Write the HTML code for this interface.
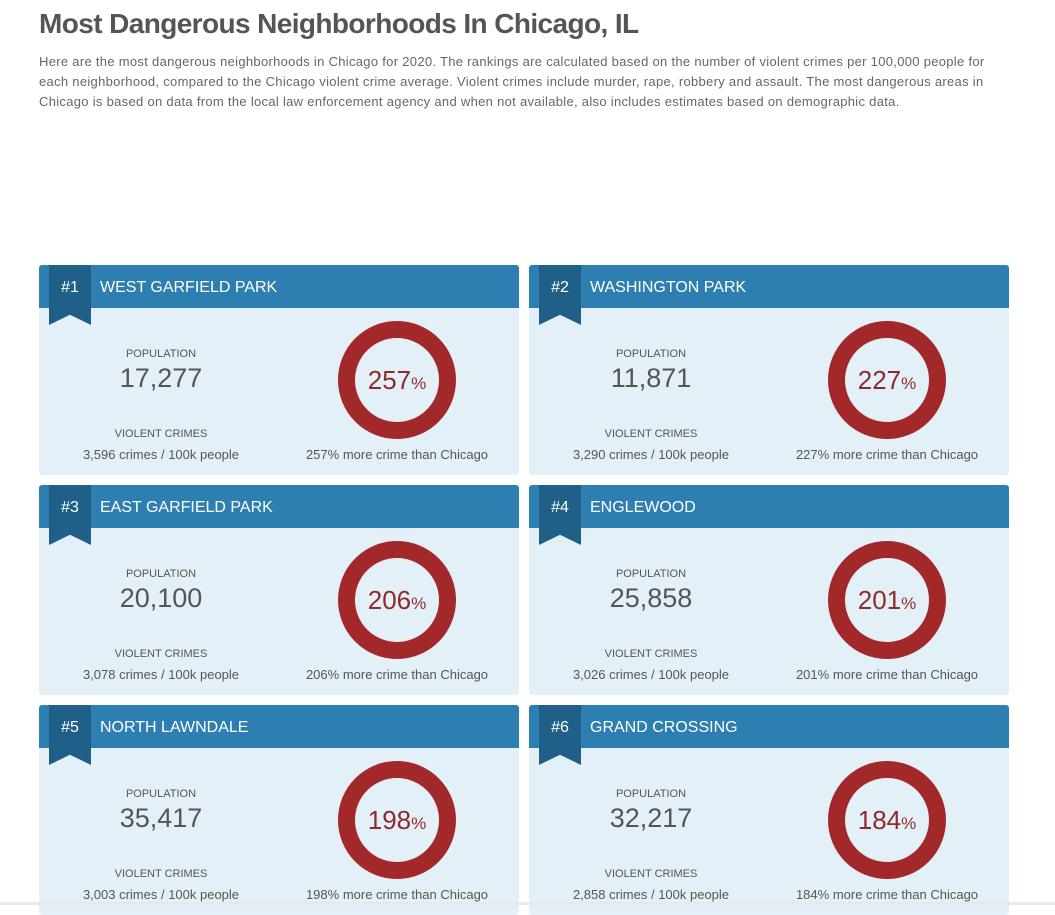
<!DOCTYPE html>
<html><head><meta charset="utf-8">
<style>
body{margin:0;width:1055px;height:905px;overflow:hidden;background:#fff;font-family:"Liberation Sans",sans-serif;color:#555;position:relative}
h1{position:absolute;left:39px;top:8px;margin:0;font-size:28px;font-weight:bold;color:#555;letter-spacing:-0.6px}
p.intro{position:absolute;left:39px;top:52px;width:955px;margin:0;font-size:13px;line-height:20px;color:#666;letter-spacing:0.3px}
.card{position:absolute;width:480px;height:210px;background:#e4f0f8;border-radius:3px;overflow:hidden}
.hdr{position:absolute;left:0;top:0;width:480px;height:43px;background:#2d7fb1}
.rib{position:absolute;left:10px;top:0;width:42px;height:60px;background:#205f88;clip-path:polygon(0 0,100% 0,100% 100%,50% 83%,0 100%)}
.rank{position:absolute;left:10px;top:1px;width:42px;line-height:43px;text-align:center;color:#fff;font-size:16px}
.name{position:absolute;left:61px;top:1px;line-height:43px;color:#fff;font-size:16px}
.lbl{position:absolute;width:244px;left:0;text-align:center;font-size:11px;color:#555}
.pop{position:absolute;width:244px;left:0;top:98px;text-align:center;font-size:27px;color:#555}
.cr{position:absolute;width:244px;left:0;top:182px;text-align:center;font-size:13px;color:#555}
.more{position:absolute;width:240px;left:238px;top:182px;text-align:center;font-size:13px;color:#555}
svg.ring{position:absolute;left:298px;top:55px}
.bot{position:absolute;left:0;top:902px;width:1055px;height:3px;background:#e6e8ea}
</style></head><body>
<h1>Most Dangerous Neighborhoods In Chicago, IL</h1>
<p class="intro">Here are the most dangerous neighborhoods in Chicago for 2020. The rankings are calculated based on the number of violent crimes per 100,000 people for each neighborhood, compared to the Chicago violent crime average. Violent crimes include murder, rape, robbery and assault. The most dangerous areas in Chicago is based on data from the local law enforcement agency and when not available, also includes estimates based on demographic data.</p>
<div id="cards"></div>
<div class="bot"></div>
<script>
const names=["WEST GARFIELD PARK","WASHINGTON PARK","EAST GARFIELD PARK","ENGLEWOOD","NORTH LAWNDALE","GRAND CROSSING"];
const populations=["17,277","11,871","20,100","25,858","35,417","32,217"];
const crimes=["3,596","3,290","3,078","3,026","3,003","2,858"];
const percents=[257,227,206,201,198,184];
const root=document.getElementById('cards');
names.forEach((n,i)=>{
  const c=document.createElement('div');
  c.className='card';
  
  
  c.style.left=(i%2?529:39)+'px';
  c.style.top=(265+Math.floor(i/2)*220)+'px';
  c.innerHTML=`<div class="hdr"></div>
<div class="rib"></div>
<div class="rank">#${i+1}</div>
<div class="name">${n}</div>
<div class="lbl" style="top:83px">POPULATION</div>
<div class="pop">${populations[i]}</div>
<div class="lbl" style="top:163px">VIOLENT CRIMES</div>
<div class="cr">${crimes[i]} crimes / 100k people</div>
<svg class="ring" width="120" height="120">
<circle cx="60" cy="60" r="50.5" fill="none" stroke="#a3282a" stroke-width="17"/>
<text x="60" y="69" text-anchor="middle" font-family="Liberation Sans,sans-serif" fill="#8e2a2c"><tspan font-size="26">${percents[i]}</tspan><tspan font-size="17">%</tspan></text>
</svg>
<div class="more">${percents[i]}% more crime than Chicago</div>`;
  root.appendChild(c);
});
</script>
</body></html>
